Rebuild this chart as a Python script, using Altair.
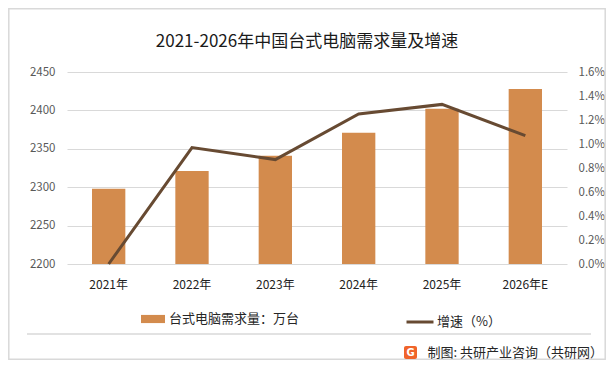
import altair as alt
import pandas as pd

years = ["2021年", "2022年", "2023年", "2024年", "2025年", "2026年E"]
demand = [2298, 2321, 2341, 2371, 2402, 2428]
growth = [0.0, 0.0097, 0.0087, 0.0125, 0.0133, 0.0107]
bar_name = "台式电脑需求量：万台"
line_name = "增速（%）"
title_text = "2021-2026年中国台式电脑需求量及增速"
footer_text = "制图: 共研产业咨询（共研网）"

FONT = "Noto Sans CJK SC"
BAR_COLOR = "#D38B4D"
LINE_COLOR = "#674A32"

df = pd.DataFrame({"year": years, "value": demand, "growth": growth,
                   "s1": bar_name, "s2": line_name})

xenc = alt.X("year:N", sort=years, title=None,
             scale=alt.Scale(paddingInner=0.6, paddingOuter=0.3),
             axis=alt.Axis(labelAngle=0, domain=False, ticks=False, grid=False,
                           labelPadding=15, labelFontSize=12, labelColor="#222222",
                           labelFont=FONT))

bars = alt.Chart(df).mark_bar(clip=True).encode(
    x=xenc,
    y=alt.Y("value:Q", title=None,
            scale=alt.Scale(domain=[2200, 2450], zero=False, nice=False),
            axis=alt.Axis(values=[2200, 2250, 2300, 2350, 2400, 2450], format="d",
                          domain=False, domainOpacity=0, ticks=False, labelPadding=12,
                          labelFontSize=11.5, labelColor="#595959", labelFont=FONT,
                          gridColor="#D9D9D9", gridWidth=1)),
    fill=alt.Fill("s1:N", scale=alt.Scale(domain=[bar_name], range=[BAR_COLOR]),
                  legend=alt.Legend(orient="none", legendX=74, legendY=235, title=None,
                                    symbolType="M-1,-0.34H1V0.34H-1Z", symbolSize=576,
                                    symbolStrokeWidth=0, symbolOpacity=1,
                                    labelFontSize=13, labelColor="#262626", labelFont=FONT,
                                    labelOffset=4)),
)

line = alt.Chart(df).mark_line(strokeWidth=3).encode(
    x=xenc,
    y=alt.Y("growth:Q", title=None,
            scale=alt.Scale(domain=[0, 0.016], nice=False),
            axis=alt.Axis(orient="right", values=[i * 0.002 for i in range(9)],
                          format=".1%", grid=False, domain=False, domainOpacity=0,
                          ticks=False,
                          labelPadding=11, labelFontSize=11.5, labelColor="#595959",
                          labelFont=FONT)),
    stroke=alt.Stroke("s2:N", scale=alt.Scale(domain=[line_name], range=[LINE_COLOR]),
                      legend=alt.Legend(orient="none", legendX=338, legendY=235, title=None,
                                        symbolType="stroke", symbolSize=729,
                                        symbolStrokeWidth=3,
                                        labelFontSize=13, labelColor="#262626", labelFont=FONT,
                                        labelOffset=2)),
)

one = alt.Data(values=[{}])

title = alt.Chart(one).mark_text(text=title_text, font=FONT, fontSize=17, color="#1a1a1a",
                                 align="center", baseline="middle").encode(
    x=alt.value(240), y=alt.value(-30))

sep = alt.Chart(one).mark_rule(color="#D9D9D9", strokeWidth=1.5).encode(
    x=alt.value(-40), x2=alt.value(524), y=alt.value(262))

frame = alt.Chart(one).mark_rect(fillOpacity=0, stroke="#D9D9D9", strokeWidth=1.5).encode(
    x=alt.value(-58.2), x2=alt.value(538.2), y=alt.value(-63.2), y2=alt.value(287.2))

footer = alt.Chart(one).mark_text(text=footer_text, font=FONT, fontSize=13, color="#262626",
                                  align="right", baseline="middle").encode(
    x=alt.value(536), y=alt.value(281))

logo = alt.Chart(one).mark_rect(fill="#F0642A", cornerRadius=2).encode(
    x=alt.value(337), x2=alt.value(350), y=alt.value(274), y2=alt.value(287))

logo_g = alt.Chart(one).mark_text(text="G", font="DejaVu Sans", fontWeight="bold",
                                  fontSize=10, color="white", align="center",
                                  baseline="middle").encode(
    x=alt.value(343.5), y=alt.value(281))

chart = alt.layer(frame, bars, line, title, sep, footer, logo, logo_g).resolve_scale(
    y="independent", fill="independent", stroke="independent"
).properties(
    width=500, height=192,
    background="white",
    autosize=alt.AutoSizeParams(type="none"),
    padding={"left": 59, "top": 64, "right": 39, "bottom": 96},
).configure_view(stroke="transparent", strokeOpacity=0).configure_axis(
    domain=False, domainOpacity=0, domainWidth=0)

chart.save("out.html", embed_options={"renderer": "svg", "actions": False})
